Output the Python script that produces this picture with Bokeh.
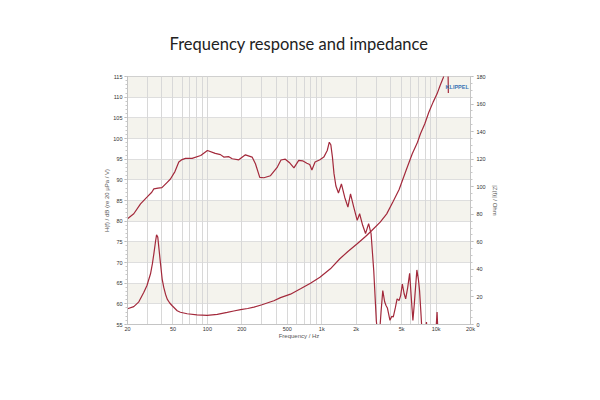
from bokeh.plotting import figure
from bokeh.models import Range1d, LinearAxis, FixedTicker, Label
from bokeh.embed import file_html
from bokeh.resources import INLINE

# ---- data ----
spl_freq = [20, 22.7, 26, 29.6, 32.6, 34, 37, 40, 44.5, 47.5, 52, 56.2, 60, 64.3, 73.5, 87.4,
            100, 117, 130, 139, 154, 164.7, 188, 215, 246, 263, 287, 312, 356, 409, 440,
            480, 520, 571, 629, 680, 741, 785, 820, 874, 964, 1042, 1117, 1164, 1200,
            1240, 1280, 1330, 1400, 1486, 1587, 1694, 1785, 1900, 2042, 2144, 2280, 2416,
            2570, 2700, 2850, 3000, 3150, 3300, 3418, 3550, 3649, 3750, 3950, 4100, 4220,
            4400, 4560, 4745, 4900, 5070, 5250, 5420, 5650, 5870, 6050, 6270, 6450, 6790,
            7000, 7170, 7400, 7570, 7900, 8240, 8500, 9800, 10200, 10500]
spl_db = [80.6, 81.8, 84.2, 85.8, 87.0, 87.8, 88.0, 88.1, 89.4, 90.2, 92.0, 94.3, 94.9, 95.2,
          95.2, 95.9, 97.1, 96.4, 96.1, 95.5, 95.6, 95.1, 94.85, 96.05, 95.5, 93.9, 90.6,
          90.5, 91.0, 93.1, 94.8, 95.0, 94.2, 92.9, 94.7, 94.6, 94.0, 93.7, 92.4, 94.3,
          94.85, 95.5, 97.1, 99.1, 98.5, 95.5, 91.5, 88.5, 86.8, 89.0, 85.8, 83.4, 86.6,
          83.5, 80.2, 81.8, 79.0, 77.0, 79.4, 77.0, 68.0, 56.0, 50.0, 58.0, 63.2, 60.5,
          59.6, 59.0, 56.0, 57.0, 56.8, 59.0, 61.2, 60.8, 62.0, 64.8, 62.5, 61.2, 64.0,
          67.4, 62.0, 56.0, 60.0, 68.2, 66.0, 63.2, 57.0, 52.0, 50.0, 55.6, 50.0, 50.0,
          58.0, 50.0]

imp_freq = [20, 22.7, 25, 27.8, 29.6, 31.8, 33, 34, 35, 35.9, 36.8, 37.8, 38.9, 40.2, 41.5,
            43, 44.5, 46.8, 49.2, 54.4, 58, 66.5, 81, 99.6, 122, 149, 170, 195, 225, 255,
            300, 381, 436, 533, 652, 797, 964, 1190, 1440, 1694, 2042, 2416, 2740, 3245,
            3700, 4220, 4750, 5460, 6190, 6880, 7300, 7970, 8640, 9420, 10200, 10850,
            11600, 12300, 12700, 12800]
imp_ohm = [11.4, 13.0, 16.2, 23.4, 28.3, 36.8, 44.0, 51.3, 59.0, 65.1, 63.4, 54.0, 44.0,
           33.0, 27.0, 22.0, 18.4, 15.6, 13.6, 10.0, 8.9, 7.8, 7.0, 6.6, 7.3, 8.8, 9.8,
           10.8, 11.6, 12.6, 14.3, 17.2, 19.5, 22.0, 25.9, 30.0, 34.3, 40.4, 47.7, 53.0,
           58.6, 63.9, 68.2, 74.3, 80.3, 89.5, 98.0, 111.8, 123.9, 132.3, 138.4, 145.7,
           154.0, 161.4, 167.4, 173.5, 179.5, 192.0, 190.0, 168.0]

x_ticks = [20, 50, 100, 200, 500, 1000, 2000, 5000, 10000, 20000]
x_tick_labels = ["20", "50", "100", "200", "500", "1k", "2k", "5k", "10k", "20k"]
x_minor = [30, 40, 60, 70, 80, 90, 300, 400, 600, 700, 800, 900,
           3000, 4000, 6000, 7000, 8000, 9000]
db_ticks = [55, 60, 65, 70, 75, 80, 85, 90, 95, 100, 105, 110, 115]
ohm_ticks = [0, 20, 40, 60, 80, 100, 120, 140, 160, 180]

RED = "#a3293b"
GRID = "#d8d8d8"
TXT = "#555555"

p = figure(width=584, height=384, output_backend="svg", toolbar_location=None,
           x_axis_type="log", x_range=Range1d(20, 20000), y_range=Range1d(55, 115),
           min_border_left=127, min_border_right=114, min_border_top=76,
           min_border_bottom=60)
p.extra_y_ranges = {"imp": Range1d(0, 180)}

p.title.text = "Frequency response and impedance"
p.title.align = "center"
p.title.text_font = "Lato"
p.title.text_font_size = "16.5px"
p.title.text_font_style = "normal"
p.title.text_color = "#222222"
p.title.standoff = 46

p.outline_line_color = "#c4c4c4"
p.background_fill_color = "white"
p.border_fill_color = "white"

# x axis
xa = p.xaxis[0]
xa.ticker = FixedTicker(ticks=x_ticks, minor_ticks=x_minor)
xa.major_label_overrides = {t: l for t, l in zip(x_ticks, x_tick_labels)}
xa.axis_label = "Frequency / Hz"
xa.axis_line_color = "#c4c4c4"
xa.major_tick_line_color = None
xa.major_tick_out = 0
xa.major_tick_in = 0
xa.minor_tick_line_color = None
xa.minor_tick_out = 0
xa.major_label_text_font_size = "5.5px"
xa.major_label_text_color = "#333333"
xa.major_label_text_font = "Liberation Sans"
xa.major_label_standoff = 1
xa.axis_label_text_font_size = "6px"
xa.axis_label_text_font = "Liberation Sans"
xa.axis_label_text_font_style = "normal"
xa.axis_label_text_color = TXT
xa.axis_label_standoff = -2

# left axis
ya = p.yaxis[0]
ya.ticker = FixedTicker(ticks=db_ticks, minor_ticks=list(range(55, 116)))
ya.axis_label = "H(f) / dB (re 20 µPa / V)"
ya.axis_line_color = "#c4c4c4"
ya.major_tick_line_color = "#b0b0b0"
ya.major_tick_out = 3
ya.major_tick_in = 0
ya.minor_tick_line_color = "#c8c8c8"
ya.minor_tick_out = 2
ya.minor_tick_in = 0
ya.major_label_text_font_size = "5.5px"
ya.major_label_text_color = "#333333"
ya.major_label_text_font = "Liberation Sans"
ya.major_label_standoff = 2
ya.axis_label_text_font_size = "6px"
ya.axis_label_text_font = "Liberation Sans"
ya.axis_label_text_font_style = "normal"
ya.axis_label_text_color = TXT
ya.axis_label_standoff = 0

# right axis
ra = LinearAxis(y_range_name="imp", ticker=FixedTicker(ticks=ohm_ticks,
                minor_ticks=list(range(0, 181, 5))))
ra.axis_label = "|Z(f)| / Ohm"
ra.axis_line_color = "#c4c4c4"
ra.major_tick_line_color = "#b0b0b0"
ra.major_tick_out = 3
ra.major_tick_in = 0
ra.minor_tick_line_color = "#c8c8c8"
ra.minor_tick_out = 2
ra.minor_tick_in = 0
ra.major_label_text_font_size = "5.5px"
ra.major_label_text_color = "#333333"
ra.major_label_text_font = "Liberation Sans"
ra.major_label_standoff = 3
ra.axis_label_text_font_size = "6px"
ra.axis_label_text_font = "Liberation Sans"
ra.axis_label_text_font_style = "normal"
ra.axis_label_text_color = TXT
ra.axis_label_standoff = 3
p.add_layout(ra, "right")

# grids: bands drawn first, then vertical lines over them
p.ygrid.ticker = FixedTicker(ticks=[50] + db_ticks)
p.ygrid.grid_line_color = "#dedede"
p.ygrid.band_fill_color = "#f4f3ed"
p.ygrid.band_fill_alpha = 1.0
p.ygrid.level = "image"
p.xgrid.ticker = FixedTicker(ticks=x_ticks, minor_ticks=x_minor)
p.xgrid.grid_line_color = GRID
p.xgrid.minor_grid_line_color = GRID
p.xgrid.level = "underlay"

# curves
p.line(spl_freq, spl_db, line_color=RED, line_width=1.2)
p.line(imp_freq, imp_ohm, line_color=RED, line_width=1.2, y_range_name="imp")

# logo
p.add_layout(Label(x=15300, y=112.4, text="KLIPPEL", text_font="Liberation Sans",
                   text_font_size="5.5px", text_font_style="bold", text_color="#3a73b5",
                   text_align="center", text_baseline="middle"))

open("out.html", "w").write(file_html(p, INLINE))
